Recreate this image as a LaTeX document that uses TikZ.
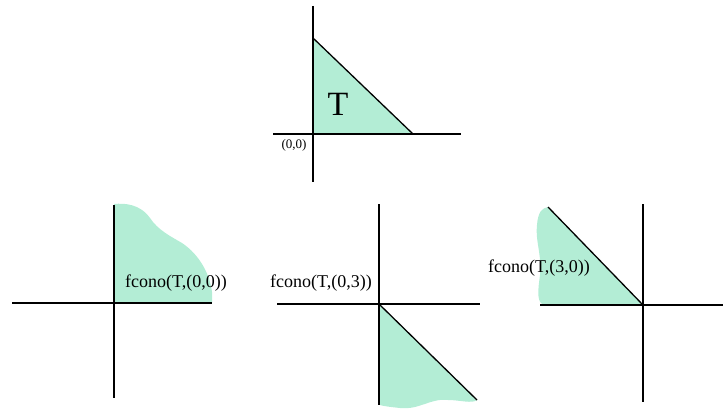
\documentclass[tikz,border=0pt]{standalone}
\usepackage{fontspec}
\setmainfont{Liberation Serif}
\definecolor{conegreen}{HTML}{B3EDD5}
\begin{document}
\begin{tikzpicture}[x=1pt,y=-1pt,
  axis/.style={line width=1.3pt,black},
  region/.style={fill=conegreen,draw=none},
  lbl/.style={inner sep=0pt,font=\fontsize{18}{20}\selectfont}]
\useasboundingbox (0,0) rectangle (723,412);
% top
\fill[region] (313,38) -- (313,134) -- (413,134) -- cycle;
\draw[axis] (313,6) -- (313,182);
\draw[axis] (273,134) -- (461,134);
\draw[axis] (313,38) -- (413,134);
\node[inner sep=0pt,font=\fontsize{34}{36}\selectfont] (T) at (338,104) {T};
\node[inner sep=0pt,font=\fontsize{13}{15}\selectfont] (o) at (294,145) {(0,0)};
% bottom left
\fill[region] (114,204) .. controls (125,203) and (140,204) .. (150,218)
  .. controls (158,230) and (170,236) .. (182,243)
  .. controls (200,255) and (210,275) .. (212,292)
  -- (212,303) -- (114,303) -- cycle;
\draw[axis] (114,205) -- (114,398);
\draw[axis] (12,303) -- (212,303);
\node[lbl,anchor=west] (l1) at (125,283) {fcono(T,(0,0))};
% bottom middle
\fill[region] (380,305) -- (477,400) .. controls (472,404) and (460,400) .. (448,400)
  .. controls (430,398) and (420,410) .. (400,408)
  .. controls (390,407) and (383,406) .. (380,405) -- cycle;
\draw[axis] (379,204) -- (379,405);
\draw[axis] (277,304) -- (480,304);
\draw[axis] (380,305) -- (477,400);
\node[lbl,anchor=east] (l2) at (372,283) {fcono(T,(0,3))};
% bottom right
\fill[region] (548,207) -- (643,305) -- (545,305)
  .. controls (536,304) and (538,290) .. (540,275)
  .. controls (542,255) and (535,240) .. (537,225)
  .. controls (538,212) and (542,208) .. (548,207) -- cycle;
\draw[axis] (643,204) -- (643,402);
\draw[axis] (540,305) -- (723,305);
\draw[axis] (548,207) -- (643,305);
\node[lbl,anchor=west] (l3) at (488,268) {fcono(T,(3,0))};
\end{tikzpicture}
\end{document}
